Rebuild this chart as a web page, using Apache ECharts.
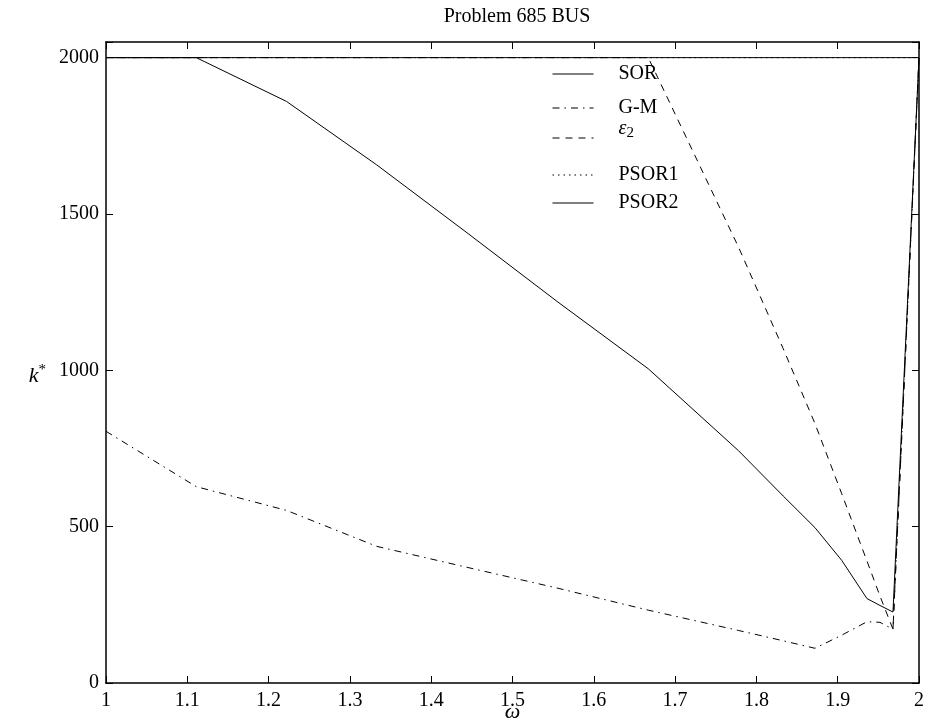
<!DOCTYPE html>
<html>
<head>
<meta charset="utf-8">
<script src="https://cdn.jsdelivr.net/npm/echarts@6/dist/echarts.min.js"></script>
<style>html,body{margin:0;padding:0;background:#fff}#c{width:927px;height:728px}</style>
</head>
<body>
<div id="c"></div>
<script>
const omega = [1, 1.111, 1.222, 1.333, 1.444, 1.556, 1.667, 1.778, 1.833, 1.872, 1.905, 1.936, 1.952, 1.968, 2];
const sor   = [2000, 2000, 1860, 1657, 1440, 1218, 1005, 743, 598, 497, 392, 270, 248, 227, 2000];
const gm    = [805, 628, 552, 437, 370, 303, 233, 168, 135, 111, 153, 196, 194, 172, 2000];
const eps2  = [2000, 2000, 2000, 2000, 2000, 2000, 2000, 1394, 1069, 830, 605, 390, 278, 172, 2000];
const psor1 = [2000, 2000, 2000, 2000, 2000, 2000, 2000, 2000, 2000, 2000, 2000, 2000, 2000, 2000, 2000];
const psor2 = [2000, 2000, 2000, 2000, 2000, 2000, 2000, 2000, 2000, 2000, 2000, 2000, 2000, 2000, 2000];
const xTicks = [1, 1.1, 1.2, 1.3, 1.4, 1.5, 1.6, 1.7, 1.8, 1.9, 2];
const yTicks = [0, 500, 1000, 1500, 2000];
const seriesNames = ['SOR', 'G-M', 'ε2', 'PSOR1', 'PSOR2'];

const font = 'Liberation Serif';
const pairs = arr => omega.map((w, i) => [w, arr[i]]);
const mk = (name, arr, type) => ({
  name, type: 'line', data: pairs(arr), symbol: 'none', animation: false,
  lineStyle: { color: '#000', width: 1, type },
  itemStyle: { color: '#000' }
});

const legendTops = [59, 93, 114, 160, 188];
const legends = seriesNames.map((n, i) => ({
  orient: 'vertical', left: 547, top: legendTops[i],
  itemWidth: 41, itemHeight: 16, itemGap: 0,
  data: [n],
  itemStyle: { opacity: 0 },
  lineStyle: { width: 1 },
  formatter: nm => nm === 'ε2' ? '{e|ε}{s|2}' : nm,
  textStyle: {
    fontFamily: font, fontSize: 20, color: '#000', padding: [0, 0, 0, 20],
    rich: {
      e: { fontFamily: font, fontStyle: 'italic', fontSize: 20, color: '#000', padding: [0, 0, 18, 0] },
      s: { fontFamily: font, fontSize: 15, color: '#000', padding: [0, 0, 10, 0] }
    }
  }
}));

const chart = echarts.init(document.getElementById('c'));
chart.setOption({
  backgroundColor: '#fff',
  animation: false,
  title: {
    text: 'Problem 685 BUS', left: 512, top: 2, textAlign: 'center',
    textStyle: { fontFamily: font, fontSize: 20, fontWeight: 'normal', color: '#000' }
  },
  grid: { left: 106, right: 8, top: 42, bottom: 45, outerBoundsMode: 'none', containLabel: false },
  legend: legends,
  xAxis: [{
    type: 'value', min: 1, max: 2, interval: 0.1,
    name: 'ω', nameLocation: 'middle', nameGap: 18, nameMoveOverlap: false,
    nameTextStyle: { fontFamily: font, fontStyle: 'italic', fontSize: 22, color: '#000', verticalAlign: 'top' },
    axisLine: { onZero: false, lineStyle: { color: '#000', width: 1.5 } },
    axisTick: { inside: true, length: 7, lineStyle: { color: '#000' } },
    axisLabel: {
      margin: 8, fontFamily: font, fontSize: 20, color: '#000',
      formatter: v => { const r = Math.round(v * 10) / 10; return xTicks.includes(r) ? String(r) : ''; }
    },
    splitLine: { show: false }
  }, {
    type: 'value', min: 1, max: 2, interval: 0.1, position: 'top',
    axisLine: { onZero: false, lineStyle: { color: '#000', width: 1.5 } },
    axisTick: { inside: true, length: 7, lineStyle: { color: '#000' } },
    axisLabel: { show: false }, splitLine: { show: false }
  }],
  yAxis: [{
    type: 'value', min: 0, max: 2050, interval: 500,
    name: '{k|k}{s|*}', nameLocation: 'middle', nameGap: 60, nameRotate: 0,
    nameTextStyle: {
      fontFamily: font, fontSize: 22, color: '#000', padding: [28, 0, 0, 0],
      rich: {
        k: { fontFamily: font, fontStyle: 'italic', fontSize: 22, color: '#000' },
        s: { fontFamily: font, fontSize: 15, color: '#000', padding: [0, 0, 12, 0] }
      }
    },
    axisLine: { onZero: false, lineStyle: { color: '#000', width: 1.5 } },
    axisTick: { inside: true, length: 7, lineStyle: { color: '#000' } },
    axisLabel: {
      margin: 7, fontFamily: font, fontSize: 20, color: '#000',
      formatter: v => yTicks.includes(Math.round(v)) ? String(Math.round(v)) : ''
    },
    splitLine: { show: false }
  }, {
    type: 'value', min: 0, max: 2050, interval: 500, position: 'right',
    axisLine: { onZero: false, lineStyle: { color: '#000', width: 1.5 } },
    axisTick: { inside: true, length: 7, lineStyle: { color: '#000' } },
    axisLabel: { show: false }, splitLine: { show: false }
  }],
  series: [
    mk('SOR', sor, 'solid'),
    mk('G-M', gm, [7, 5, 1.5, 5]),
    mk('ε2', eps2, [7, 6]),
    mk('PSOR1', psor1, [1.5, 4]),
    mk('PSOR2', psor2, 'solid')
  ]
});
</script>
</body>
</html>
